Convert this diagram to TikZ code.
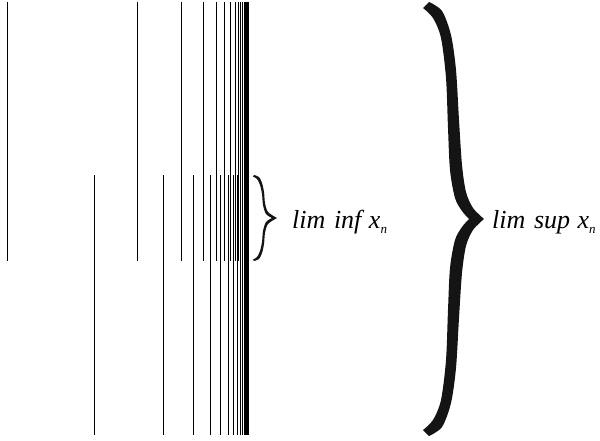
\documentclass[tikz,border=0pt]{standalone}
\usepackage{fontspec}
\setmainfont{Liberation Serif}

\tikzset{
  seqline/.style={line width=1pt, black},
  bracefill/.style={fill=black!92, draw=none},
  limlabel/.style={anchor=base west, inner sep=0pt,
    font=\fontsize{26}{26}\selectfont\itshape},
}
\newcommand{\subn}{\raisebox{-0.22em}{\fontsize{13}{13}\selectfont n}}

\begin{document}
\begin{tikzpicture}[x=1pt, y=-1pt]
    % Canvas: 600 x 440, y grows downward
    %   upper sequence from y=2 to y=261, lower from y=175 to y=435
    %   both crowd towards x=248
    %   small brace x=253..277, big brace x=423..484
    \useasboundingbox (0,0) rectangle (600,440);
    \foreach \xx in {7,137,181,203,216,224,230,235,238,240.5,242.5,244,245.3,246.3,247.1,247.7,248.2}
      \draw[seqline] (\xx,2) -- (\xx,261);
    \foreach \xx in {94,163,193,210,220,228,233,237,240,242.5,244.3,245.6,246.6,247.4,248}
      \draw[seqline] (\xx,175) -- (\xx,435);
    % small brace (lim inf)
    \fill[bracefill]
      plot[smooth] coordinates {(254,175) (259,177) (262,183) (264,192) (265,203) (268,212) (277,218)}
      -- plot[smooth] coordinates {(277,218) (268,224) (265,233) (264,244) (262,253) (259,259) (254,261)}
      -- plot[smooth] coordinates {(253,259.5) (257,257) (260,251) (262,242) (263,231) (266,222) (272,218)}
      -- plot[smooth] coordinates {(272,218) (266,214) (263,205) (262,194) (260,185) (257,179) (253,176.5)}
      -- cycle;
    % big brace (lim sup)
    \fill[bracefill]
      plot[smooth] coordinates {(429,2) (442,11) (451,35) (456,70) (459,120) (462,165) (466,192) (473,208) (484,219)}
      -- plot[smooth] coordinates {(484,219) (473,230) (466,246) (462,273) (459,318) (456,368) (451,403) (442,427) (429,436)}
      -- plot[smooth] coordinates {(423,430) (433,420) (441,400) (446,360) (448,310) (450,268) (455,240) (462,227) (469,219)}
      -- plot[smooth] coordinates {(469,219) (462,211) (455,198) (450,170) (448,128) (446,78) (441,38) (433,18) (423,8)}
      -- cycle;
    \node[limlabel] (liminf) at (292,228) {lim\hspace{0.08em} inf\hspace{0.04em} x\subn};
    \node[limlabel] (limsup) at (492,228) {lim\hspace{0.08em} sup\hspace{0.04em} x\subn};
\end{tikzpicture}
\end{document}
